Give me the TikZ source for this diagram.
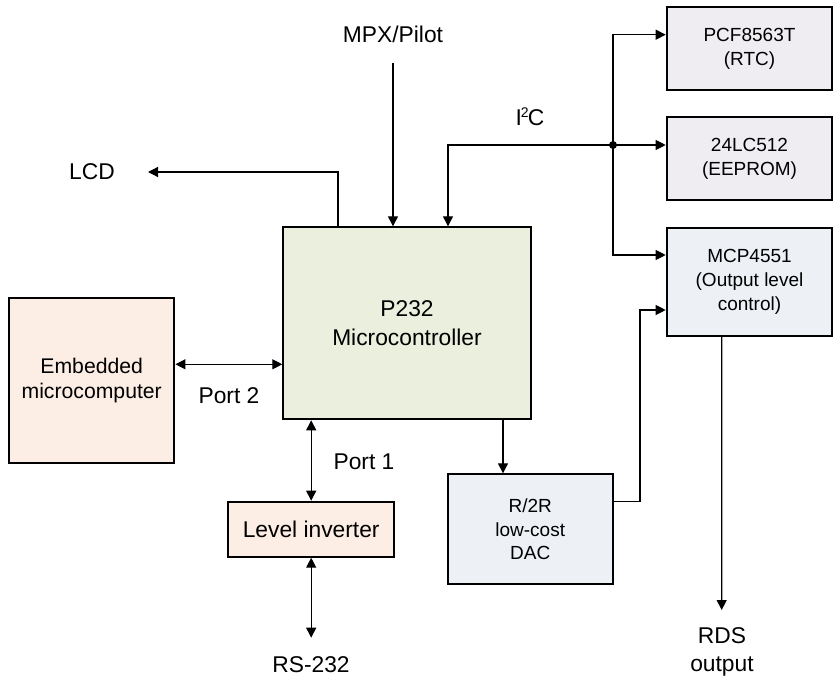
\documentclass[tikz,border=0pt]{standalone}
\usepackage{fontspec}
\setmainfont{Liberation Sans}
\usetikzlibrary{arrows.meta}
\definecolor{mcugreen}{HTML}{EBEFDD}
\definecolor{peach}{HTML}{FCEEE4}
\definecolor{lilac}{HTML}{EFEDF2}
\definecolor{bluegray}{HTML}{EDF1F6}
\newcommand{\bigtxt}{\fontsize{11.4}{14}\selectfont}
\newcommand{\smltxt}{\fontsize{9.5}{11.8}\selectfont}
\begin{document}
\begin{tikzpicture}[x=0.5pt, y=-0.5pt,
        blk/.style={draw, line width=1pt, align=center, inner sep=0pt},
        chip/.style={blk, minimum width=82.8pt, font=\smltxt},
        lbl/.style={align=center, inner sep=0pt, font=\bigtxt},
        wire/.style={line width=0.6pt},
        arr/.style={wire, -{Triangle[length=5pt,width=5pt]}},
        dbl/.style={wire, {Triangle[length=5pt,width=5pt]}-{Triangle[length=5pt,width=5pt]}}]
    \useasboundingbox (0,0) rectangle (837,680);
    % blocks
    \node[blk, fill=mcugreen, minimum width=123.7pt, minimum height=96pt,
        font=\fontsize{11.4}{14.5}\selectfont] (mcu) at (407,323.3) {P232\\Microcontroller};
    \node[blk, fill=peach, minimum width=82.7pt, minimum height=82.5pt,
        font=\fontsize{10.6}{12.7}\selectfont] (emb) at (91.7,380.8) {Embedded\\microcomputer};
    \node[blk, fill=peach, minimum width=82.8pt, minimum height=27.5pt, font=\bigtxt] (inv) at (311.2,529.2) {Level inverter};
    \node[chip, fill=bluegray, minimum width=82.5pt, minimum height=55pt] (dac) at (530.2,529.3) {R/2R\\low-cost\\DAC};
    \node[chip, fill=lilac, minimum height=41.3pt] (rtc) at (749.5,48.7) {PCF8563T\\(RTC)};
    \node[chip, fill=lilac, minimum height=41.3pt] (eeprom) at (749.5,158.7) {24LC512\\(EEPROM)};
    \node[chip, fill=bluegray, minimum height=54.2pt] (mcp) at (749.5,281.8) {MCP4551\\(Output level\\control)};
    % labels
    \node[lbl] (mpx) at (393,34) {MPX/Pilot};
    \node[lbl] (lcd) at (92,172) {LCD};
    \node[lbl] (i2c) at (530,117) {I\kern-0.6pt\raisebox{0.35em}{\fontsize{7}{8}\selectfont 2}\kern-0.4pt C};
    \node[lbl] (port2) at (229,396) {Port 2};
    \node[lbl] (port1) at (364,462) {Port 1};
    \node[lbl] (rs232) at (311,665) {RS-232};
    \node[lbl, font=\fontsize{11.4}{14}\selectfont] (rds) at (722,652) {RDS\\output};
    % free ends
    \coordinate (mpxin) at (393,63);
    \coordinate (lcdtap) at (338,172);
    \coordinate (lcdout) at (148,172);
    \coordinate (i2ctap) at (448,145);
    \coordinate (bus) at (613,145);
    \coordinate (dacbend) at (640,400);
    \coordinate (rdsend) at (721.7,610);
    \coordinate (rsend) at (311.2,637.7);
    % connectors
    \draw[arr] (mpxin) -- (mpxin |- mcu.north);
    \draw[arr] (mcu.north -| lcdtap) -- (lcdtap) -- (lcdout);
    \draw[arr] (bus) -- (i2ctap) -- (i2ctap |- mcu.north);
    \draw[arr] (bus) |- ([yshift=7pt]rtc.west);
    \draw[arr] (bus) -- (bus -| eeprom.west);
    \draw[arr] (bus) |- ([yshift=13.4pt]mcp.west);
    \fill (bus) circle (2pt);
    \draw[dbl] ([yshift=8.25pt]emb.east) -- ([yshift=8.25pt]emb.east -| mcu.west);
    \draw[dbl] (inv.north) -- (inv.north |- mcu.south);
    \draw[dbl] (inv.south) -- (rsend);
    \draw[arr] ([xshift=48pt]mcu.south) -- ([xshift=48pt]mcu.south |- dac.north);
    \draw[arr] ([yshift=13.8pt]dac.east) -| (dacbend) |- ([yshift=-14.1pt]mcp.west);
    \draw[arr] ([xshift=-13.9pt]mcp.south) -- (rdsend);
\end{tikzpicture}
\end{document}
